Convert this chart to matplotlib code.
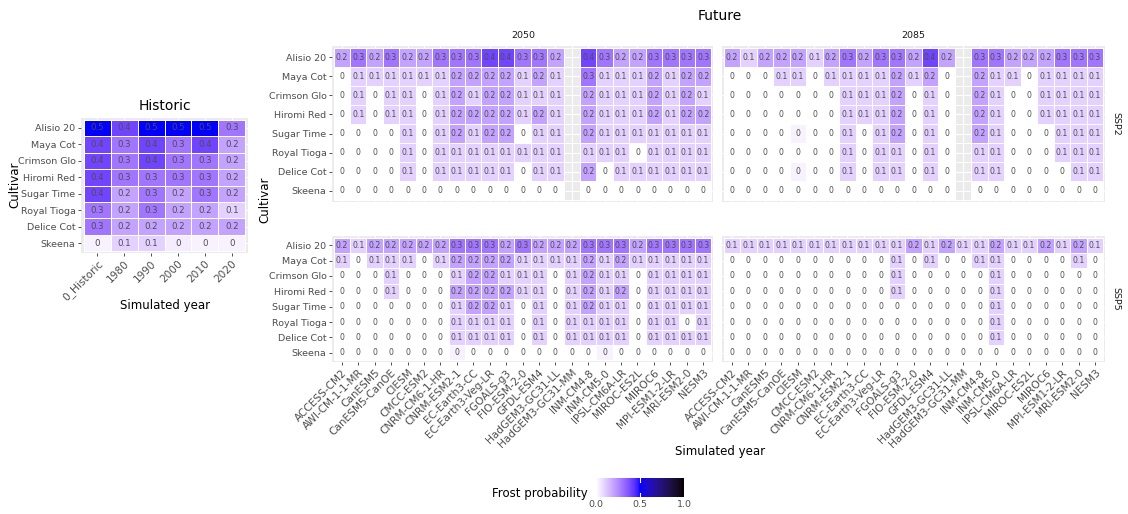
import numpy as np
import matplotlib
matplotlib.use("Agg")
from matplotlib import pyplot as plt
from matplotlib.colors import ListedColormap

cultivars = ["Alisio 20", "Maya Cot", "Crimson Glo", "Hiromi Red",
             "Sugar Time", "Royal Tioga", "Delice Cot", "Skeena"]

hist_years = ["0_Historic", "1980", "1990", "2000", "2010", "2020"]

gcms = ["ACCESS-CM2", "AWI-CM-1-1-MR", "CanESM5", "CanESM5-CanOE", "CIESM",
        "CMCC-ESM2", "CNRM-CM6-1-HR", "CNRM-ESM2-1", "EC-Earth3-CC",
        "EC-Earth3-Veg-LR", "FGOALS-g3", "FIO-ESM-2-0", "GFDL-ESM4",
        "HadGEM3-GC31-LL", "HadGEM3-GC31-MM", "INM-CM4-8", "INM-CM5-0",
        "IPSL-CM6A-LR", "MIROC-ES2L", "MIROC6", "MPI-ESM1-2-LR",
        "MRI-ESM2-0", "NESM3"]

nan = np.nan

historic = [
    [0.5, 0.4, 0.5, 0.5, 0.5, 0.3],
    [0.4, 0.3, 0.4, 0.3, 0.4, 0.2],
    [0.4, 0.3, 0.4, 0.3, 0.3, 0.2],
    [0.4, 0.3, 0.3, 0.3, 0.3, 0.2],
    [0.4, 0.2, 0.3, 0.2, 0.3, 0.2],
    [0.3, 0.2, 0.3, 0.2, 0.2, 0.1],
    [0.3, 0.2, 0.2, 0.2, 0.2, 0.2],
    [0.03, 0.1, 0.1, 0.04, 0.03, 0.03],
]

ssp2_2050 = [
    [0.2, 0.3, 0.2, 0.3, 0.2, 0.2, 0.3, 0.3, 0.3, 0.4, 0.4, 0.3, 0.3, 0.2, nan, 0.4, 0.3, 0.2, 0.2, 0.3, 0.3, 0.3, 0.3],
    [0, 0.1, 0.1, 0.1, 0.1, 0.1, 0.1, 0.2, 0.2, 0.2, 0.2, 0.1, 0.2, 0.1, nan, 0.3, 0.1, 0.1, 0.1, 0.2, 0.1, 0.2, 0.2],
    [0, 0.1, 0, 0.1, 0.1, 0, 0.1, 0.2, 0.1, 0.2, 0.2, 0.1, 0.1, 0.1, nan, 0.2, 0.1, 0.1, 0.1, 0.2, 0.1, 0.2, 0.1],
    [0, 0.1, 0, 0.1, 0.1, 0, 0.1, 0.2, 0.2, 0.2, 0.2, 0.1, 0.2, 0.1, nan, 0.2, 0.1, 0.1, 0.1, 0.2, 0.1, 0.2, 0.2],
    [0, 0, 0, 0, 0.1, 0, 0.1, 0.2, 0.1, 0.2, 0.2, 0, 0.1, 0.1, nan, 0.2, 0.1, 0.1, 0.1, 0.1, 0.1, 0.1, 0.1],
    [0, 0, 0, 0, 0.1, 0, 0.1, 0.1, 0.1, 0.1, 0.1, 0.1, 0.1, 0.1, nan, 0.1, 0.1, 0.1, 0, 0.1, 0.1, 0.1, 0.1],
    [0, 0, 0, 0, 0.1, 0, 0.1, 0.1, 0.1, 0.1, 0.1, 0, 0.1, 0.1, nan, 0.2, 0, 0.1, 0.1, 0.1, 0.1, 0.1, 0.1],
    [0, 0, 0, 0, 0, 0, 0, 0, 0, 0, 0, 0, 0, 0, nan, 0, 0, 0, 0, 0, 0, 0, 0],
]

ssp2_2085 = [
    [0.2, 0.1, 0.2, 0.2, 0.2, 0.1, 0.2, 0.3, 0.2, 0.3, 0.3, 0.2, 0.4, 0.2, nan, 0.3, 0.3, 0.2, 0.2, 0.2, 0.3, 0.3, 0.3],
    [0, 0, 0, 0.1, 0.1, 0, 0.1, 0.1, 0.1, 0.1, 0.2, 0.1, 0.2, 0, nan, 0.2, 0.1, 0.1, 0, 0.1, 0.1, 0.1, 0.1],
    [0, 0, 0, 0, 0, 0, 0, 0.1, 0.1, 0.1, 0.2, 0, 0.1, 0, nan, 0.2, 0.1, 0, 0, 0.1, 0.1, 0.1, 0.1],
    [0, 0, 0, 0, 0, 0, 0, 0.1, 0.1, 0.1, 0.2, 0, 0.1, 0, nan, 0.2, 0.1, 0, 0, 0.1, 0.1, 0.1, 0.1],
    [0, 0, 0, 0, 0.03, 0, 0, 0.1, 0, 0.1, 0.2, 0, 0.1, 0, nan, 0.2, 0.1, 0, 0, 0, 0.1, 0.1, 0.1],
    [0, 0, 0, 0, 0, 0, 0, 0.1, 0, 0.1, 0.1, 0, 0.1, 0, nan, 0.1, 0.1, 0, 0, 0, 0.1, 0.1, 0.1],
    [0, 0, 0, 0, 0.03, 0, 0, 0.1, 0, 0.1, 0.1, 0, 0.1, 0, nan, 0.1, 0.1, 0, 0, 0, 0, 0.1, 0.1],
    [0, 0, 0, 0, 0, 0, 0, 0, 0, 0, 0, 0, 0, 0, nan, 0, 0, 0, 0, 0, 0, 0, 0],
]

ssp5_2050 = [
    [0.2, 0.1, 0.2, 0.2, 0.2, 0.2, 0.2, 0.3, 0.3, 0.3, 0.2, 0.3, 0.2, 0.2, 0.2, 0.3, 0.3, 0.3, 0.2, 0.3, 0.3, 0.3, 0.3],
    [0.1, 0, 0.1, 0.1, 0.1, 0, 0.1, 0.2, 0.2, 0.2, 0.2, 0.1, 0.1, 0.1, 0.1, 0.2, 0.1, 0.2, 0.1, 0.1, 0.1, 0.1, 0.1],
    [0, 0, 0, 0.1, 0, 0, 0, 0.1, 0.2, 0.2, 0.1, 0.1, 0.1, 0, 0.1, 0.2, 0.1, 0.1, 0, 0.1, 0.1, 0.1, 0.1],
    [0, 0, 0, 0.1, 0, 0, 0, 0.2, 0.2, 0.2, 0.2, 0.1, 0.1, 0, 0.1, 0.2, 0.1, 0.2, 0, 0.1, 0.1, 0.1, 0.1],
    [0, 0, 0, 0, 0, 0, 0, 0.1, 0.2, 0.2, 0.1, 0, 0.1, 0, 0.1, 0.2, 0.1, 0.1, 0, 0.1, 0.1, 0.1, 0.1],
    [0, 0, 0, 0, 0, 0, 0, 0.1, 0.1, 0.1, 0.1, 0, 0.1, 0, 0.1, 0.1, 0.1, 0.1, 0, 0.1, 0.1, 0, 0.1],
    [0, 0, 0, 0, 0, 0, 0, 0.1, 0.1, 0.1, 0.1, 0, 0.1, 0, 0.1, 0.1, 0.1, 0.1, 0, 0.1, 0.1, 0.1, 0.1],
    [0, 0, 0, 0, 0, 0, 0, 0.03, 0, 0, 0, 0, 0, 0, 0, 0, 0.03, 0, 0, 0, 0, 0, 0],
]

ssp5_2085 = [
    [0.1, 0.1, 0.1, 0.1, 0.1, 0.1, 0.1, 0.1, 0.1, 0.1, 0.1, 0.2, 0.1, 0.2, 0.1, 0.1, 0.2, 0.1, 0.1, 0.2, 0.1, 0.2, 0.1],
    [0, 0, 0, 0, 0, 0, 0, 0, 0, 0, 0.1, 0, 0.1, 0, 0, 0.1, 0.1, 0, 0, 0, 0, 0.1, 0],
    [0, 0, 0, 0, 0, 0, 0, 0, 0, 0, 0.1, 0, 0, 0, 0, 0, 0.1, 0, 0, 0, 0, 0, 0],
    [0, 0, 0, 0, 0, 0, 0, 0, 0, 0, 0.1, 0, 0, 0, 0, 0, 0.1, 0, 0, 0, 0, 0, 0],
    [0, 0, 0, 0, 0, 0, 0, 0, 0, 0, 0, 0, 0, 0, 0, 0, 0.1, 0, 0, 0, 0, 0, 0],
    [0, 0, 0, 0, 0, 0, 0, 0, 0, 0, 0, 0, 0, 0, 0, 0, 0.1, 0, 0, 0, 0, 0, 0],
    [0, 0, 0, 0, 0, 0, 0, 0, 0, 0, 0, 0, 0, 0, 0, 0, 0.1, 0, 0, 0, 0, 0, 0],
    [0, 0, 0, 0, 0, 0, 0, 0, 0, 0, 0, 0, 0, 0, 0, 0, 0, 0, 0, 0, 0, 0, 0],
]


# ggplot-like gradient2 (white -> blue -> black), interpolated in CIELAB
WHITE_REF = np.array([0.95047, 1.0, 1.08883])
M = np.array([[0.4124, 0.3576, 0.1805],
              [0.2126, 0.7152, 0.0722],
              [0.0193, 0.1192, 0.9505]])


def rgb_to_lab(rgb):
    rgb = np.asarray(rgb, float)
    lin = np.where(rgb <= 0.04045, rgb / 12.92, ((rgb + 0.055) / 1.055) ** 2.4)
    xyz = M @ lin / WHITE_REF
    f = np.where(xyz > 0.008856, np.cbrt(xyz), 7.787 * xyz + 16 / 116)
    return np.array([116 * f[1] - 16, 500 * (f[0] - f[1]), 200 * (f[1] - f[2])])


def lab_to_rgb(lab):
    L, a, b = lab
    fy = (L + 16) / 116
    f = np.array([fy + a / 500, fy, fy - b / 200])
    xyz = np.where(f ** 3 > 0.008856, f ** 3, (f - 16 / 116) / 7.787) * WHITE_REF
    lin = np.linalg.solve(M, xyz)
    lin = np.clip(lin, 0, 1)
    rgb = np.where(lin <= 0.0031308, 12.92 * lin, 1.055 * lin ** (1 / 2.4) - 0.055)
    return np.clip(rgb, 0, 1)


def make_cmap():
    stops = [rgb_to_lab([1, 1, 1]), rgb_to_lab([0, 0, 1]), rgb_to_lab([0, 0, 0])]
    cols = []
    for t in np.linspace(0, 1, 256):
        if t <= 0.5:
            lab = stops[0] + (stops[1] - stops[0]) * (t / 0.5)
        else:
            lab = stops[1] + (stops[2] - stops[1]) * ((t - 0.5) / 0.5)
        cols.append(lab_to_rgb(lab))
    return ListedColormap(cols)


cmap = make_cmap()
TXT = "#4D4D4D"
PANEL_BG = "#EBEBEB"


def fmt(v):
    r = round(float(v), 1)
    return "0" if r == 0 else f"{r:.1f}"


def heat(ax, data, xlabels, show_y=True, show_x=True, fs=5.6):
    arr = np.ma.masked_invalid(np.array(data, float))
    nrow, ncol = arr.shape
    ax.set_facecolor(PANEL_BG)
    ax.set_axisbelow(True)
    ax.grid(True, color="white", linewidth=0.8)
    ax.pcolormesh(np.arange(ncol + 1) - 0.5, np.arange(nrow + 1) - 0.5, arr,
                  cmap=cmap, vmin=0, vmax=1, edgecolors="white", linewidth=0.7)
    for i in range(nrow):
        for j in range(ncol):
            if not np.ma.is_masked(arr[i, j]):
                ax.text(j, i, fmt(arr[i, j]), ha="center", va="center",
                        fontsize=fs, color=TXT)
    ax.set_xlim(-0.6, ncol - 0.4)
    ax.set_ylim(nrow - 0.4, -0.6)
    ax.set_xticks(range(ncol))
    ax.set_yticks(range(nrow))
    for s in ax.spines.values():
        s.set_visible(False)
    ax.tick_params(length=2.5, width=0.6, color="#333333", labelcolor=TXT,
                   labelsize=6.8, pad=1.5)
    if show_y:
        ax.set_yticklabels(cultivars)
    else:
        ax.set_yticklabels([])
        ax.tick_params(axis="y", length=0)
    if show_x:
        ax.set_xticklabels(xlabels, rotation=45, ha="right",
                           rotation_mode="anchor", fontsize=7.6)
    else:
        ax.set_xticklabels([])
        ax.tick_params(axis="x", length=0)


W, H = 1128, 514
fig = plt.figure(figsize=(W / 100, H / 100), dpi=100)


def px_axes(x0, y0, x1, y1):
    return fig.add_axes([x0 / W, 1 - y1 / H, (x1 - x0) / W, (y1 - y0) / H])


# Historic panel
ax_h = px_axes(81, 118, 248, 253)
heat(ax_h, historic, hist_years, fs=6.2)
ax_h.set_title("Historic", fontsize=10, color="black", pad=6)
fig.text(15 / W, 1 - 185 / H, "Cultivar", rotation=90, ha="center", va="center", fontsize=8.5)
fig.text(165 / W, 1 - 306 / H, "Simulated year", ha="center", va="center", fontsize=8.5)

# Future panels
cols_x = [(332, 713), (722, 1105)]
rows_y = [(46, 202), (236, 362)]
panels = [[ssp2_2050, ssp2_2085], [ssp5_2050, ssp5_2085]]
for r, (y0, y1) in enumerate(rows_y):
    for c, (x0, x1) in enumerate(cols_x):
        ax = px_axes(x0, y0, x1, y1)
        heat(ax, panels[r][c], gcms, show_y=(c == 0), show_x=(r == 1))

fig.text(720 / W, 1 - 16 / H, "Future", ha="center", va="center", fontsize=10)
fig.text(523 / W, 1 - 36 / H, "2050", ha="center", va="center", fontsize=6.8, color="#1A1A1A")
fig.text(913 / W, 1 - 36 / H, "2085", ha="center", va="center", fontsize=6.8, color="#1A1A1A")
fig.text(1116 / W, 1 - 124 / H, "SSP2", rotation=-90, ha="center", va="center", fontsize=6.8, color="#1A1A1A")
fig.text(1116 / W, 1 - 299 / H, "SSP5", rotation=-90, ha="center", va="center", fontsize=6.8, color="#1A1A1A")
fig.text(265 / W, 1 - 200 / H, "Cultivar", rotation=90, ha="center", va="center", fontsize=8.5)
fig.text(720 / W, 1 - 452 / H, "Simulated year", ha="center", va="center", fontsize=8.5)

# Legend
cax = px_axes(596, 478, 684, 497)
grad = np.linspace(0, 1, 256).reshape(1, -1)
cax.imshow(grad, cmap=cmap, aspect="auto", extent=[0, 1, 0, 1])
cax.set_xlim(0, 1)
cax.set_yticks([])
cax.set_xticks([0, 0.5, 1])
cax.set_xticklabels(["0.0", "0.5", "1.0"])
cax.tick_params(axis="x", length=0, labelsize=6.8, labelcolor=TXT, pad=2)
for t in [0.5]:
    cax.plot([t, t], [0, 0.2], color="white", lw=0.8)
    cax.plot([t, t], [0.8, 1], color="white", lw=0.8)
for s in cax.spines.values():
    s.set_visible(False)
fig.text(540 / W, 1 - 493 / H, "Frost probability", ha="center", va="center", fontsize=8.5)

fig.savefig("out.png", dpi=100)
